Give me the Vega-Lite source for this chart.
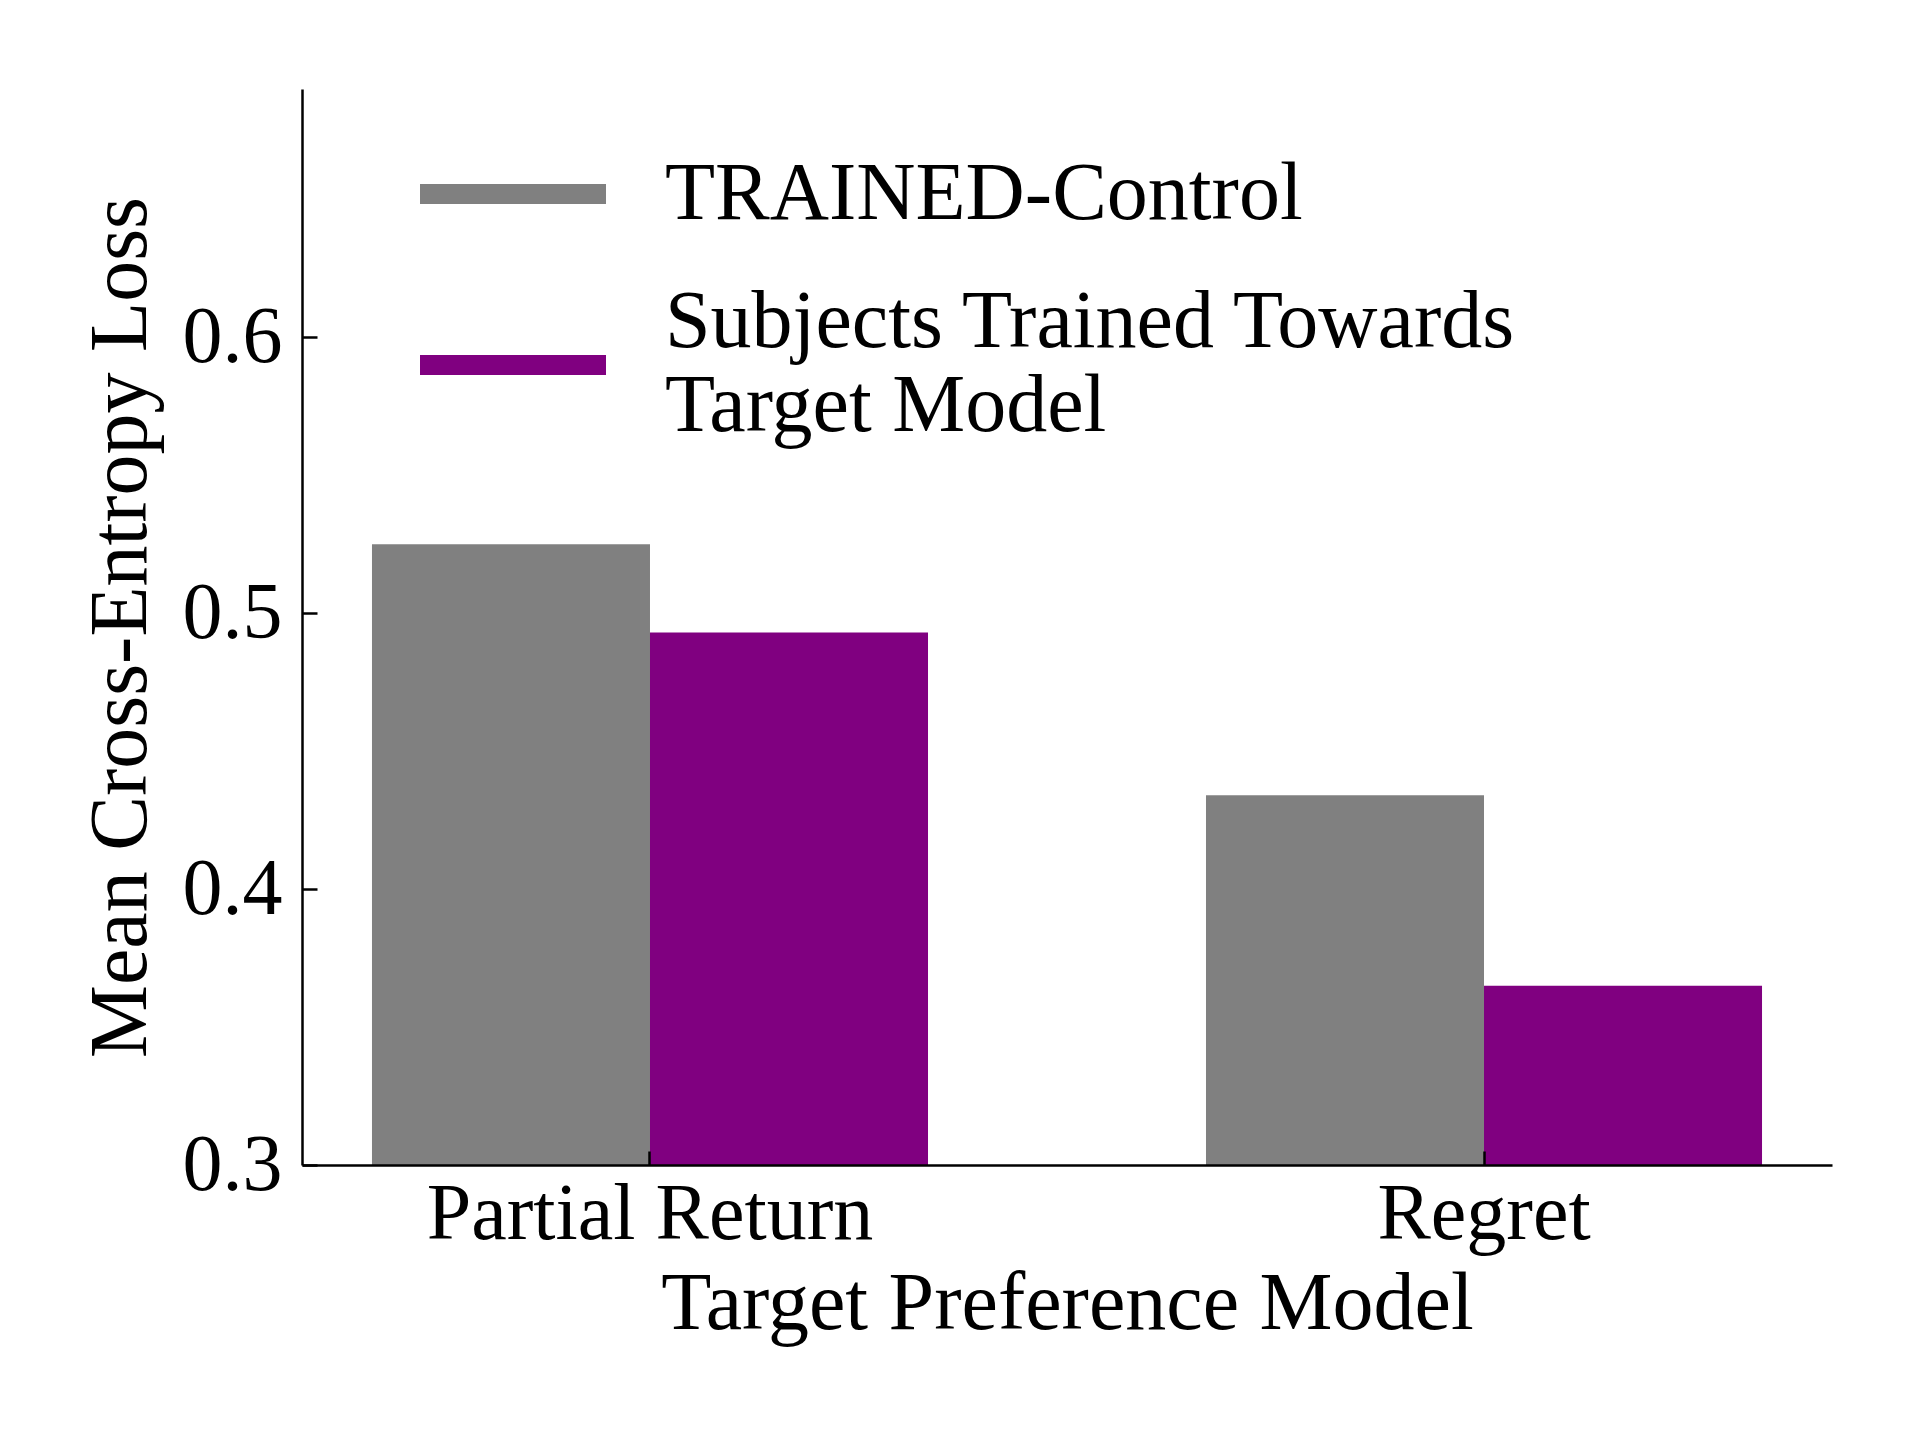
{
  "$schema": "https://vega.github.io/schema/vega-lite/v6.json",
  "width": 1530,
  "height": 1076,
  "autosize": {"type": "none"},
  "padding": {"left": 302, "top": 89, "right": 88, "bottom": 275},
  "background": "white",
  "config": {
    "font": "Liberation Serif",
    "view": {"stroke": null},
    "axis": {"grid": false, "domainColor": "black", "domainWidth": 2.5, "tickColor": "black", "tickWidth": 2.5, "labelColor": "black", "titleColor": "black", "labelFont": "Liberation Serif", "titleFont": "Liberation Serif", "titleFontWeight": "normal"}
  },
  "data": {
    "values": [
      {"model": "Partial Return", "group": "TRAINED-Control", "loss": 0.525},
      {"model": "Partial Return", "group": "Subjects Trained Towards Target Model", "loss": 0.493},
      {"model": "Regret", "group": "TRAINED-Control", "loss": 0.434},
      {"model": "Regret", "group": "Subjects Trained Towards Target Model", "loss": 0.365}
    ]
  },
  "mark": {"type": "bar", "clip": true},
  "encoding": {
    "x": {
      "field": "model", "type": "nominal", "sort": ["Partial Return", "Regret"],
      "scale": {"paddingInner": 0.3333, "paddingOuter": 0.0839},
      "axis": {"title": "Target Preference Model", "labelAngle": 0, "labelFontSize": 80, "labelLimit": 0, "titleFontSize": 82, "tickSize": -14, "labelPadding": 24, "titlePadding": 9, "zindex": 1}
    },
    "xOffset": {"field": "group", "type": "nominal", "sort": ["TRAINED-Control", "Subjects Trained Towards Target Model"], "scale": {"paddingInner": 0, "paddingOuter": 0}},
    "y": {
      "field": "loss", "type": "quantitative",
      "scale": {"domain": [0.3, 0.69], "zero": false, "clamp": true, "nice": false},
      "axis": {"title": "Mean Cross-Entropy Loss", "values": [0.3, 0.4, 0.5, 0.6], "format": ".1f", "labelFontSize": 80, "titleFontSize": 82, "tickSize": -15, "labelPadding": 35, "titlePadding": 20, "zindex": 1}
    },
    "color": {
      "field": "group", "type": "nominal",
      "scale": {"domain": ["TRAINED-Control", "Subjects Trained Towards Target Model"], "range": ["#808080", "#800080"]},
      "legend": {
        "title": null, "orient": "none", "legendX": 118, "legendY": 12,
        "symbolType": "M-1,-0.108H1V0.108H-1Z", "symbolSize": 34596, "symbolStrokeWidth": 0, "symbolOpacity": 1,
        "labelFont": "Liberation Serif", "labelFontSize": 82, "labelColor": "black", "labelLimit": 0, "labelOffset": 59,
        "labelExpr": "datum.label == 'Subjects Trained Towards Target Model' ? ['Subjects Trained Towards', 'Target Model'] : datum.label",
        "labelBaseline": {"expr": "datum.label == 'Subjects Trained Towards Target Model' ? 'line-bottom' : 'middle'"},
        "labelLineHeight": 85, "rowPadding": 37, "padding": 0
      }
    }
  }
}
